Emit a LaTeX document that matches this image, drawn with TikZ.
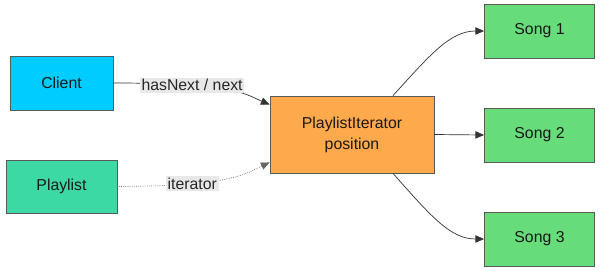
\documentclass[tikz,border=0pt]{standalone}
\usepackage{fontspec}
\setmainfont{Liberation Sans}
\usetikzlibrary{arrows.meta, calc, positioning}
\definecolor{clientc}{HTML}{00CCFF}
\definecolor{listc}{HTML}{3DD9A5}
\definecolor{iterc}{HTML}{FFA94D}
\definecolor{songc}{HTML}{66DD7A}
\definecolor{edgec}{HTML}{333333}
\definecolor{lblc}{HTML}{E8E8E8}
\tikzset{
  box/.style    ={draw=black!65, line width=0.7pt, inner sep=0pt, align=center,
                  font=\fontsize{13.5}{18}\selectfont, text=black!90},
  clientbox/.style={box, fill=clientc, minimum width=3.09cm, minimum height=1.62cm},
  listbox/.style={box, fill=listc,   minimum width=3.33cm, minimum height=1.59cm},
  iterbox/.style={box, fill=iterc,   minimum width=4.92cm, minimum height=2.31cm},
  songbox/.style={box, fill=songc,   minimum width=3.30cm, minimum height=1.62cm},
  link/.style   ={-{Triangle[length=2.6mm, width=2.2mm]}, line width=0.6pt, draw=edgec},
  weak/.style   ={link, densely dotted, draw=black!60},
  lbl/.style    ={fill=lblc, inner sep=1.5pt, font=\fontsize{13.5}{16}\selectfont, text=black!85},
}
\begin{document}
\begin{tikzpicture}[x=0.03cm, y=0.03cm]
  \useasboundingbox (0,0) rectangle (600,270);
  % left side
  \node[clientbox] (client)   at (61.5,187)  {Client};
  \node[listbox]   (playlist) at (61.5,83.5) {Playlist};
  % iterator
  \node[iterbox]   (iter)     at (352,135.5) {PlaylistIterator\\position};
  % songs
  \node[songbox]   (song1)    at (539.5,239) {Song 1};
  \node[songbox]   (song2)    at (539.5,135) {Song 2};
  \node[songbox]   (song3)    at (539.5,31)  {Song 3};

  \coordinate (inA)  at ($(iter.north west)+(0,-9)$);
  \coordinate (inB)  at ($(iter.south west)+(0,11)$);
  \coordinate (outA) at ($(iter.north)+(41,0)$);
  \coordinate (outB) at ($(iter.south)+(41,0)$);

  \draw[link] (client.east) .. controls (235,187) and (245,176) .. node[lbl, pos=0.28] {hasNext / next} (inA);
  \draw[weak] (playlist.east) .. controls (232,84) and (245,96) .. node[lbl, pos=0.28] {iterator} (inB);
  \draw[link] (outA) .. controls (430,215) and (450,239) .. (song1.west);
  \draw[link] (iter.east) -- (song2.west);
  \draw[link] (outB) .. controls (430,55) and (450,31) .. (song3.west);
\end{tikzpicture}
\end{document}
